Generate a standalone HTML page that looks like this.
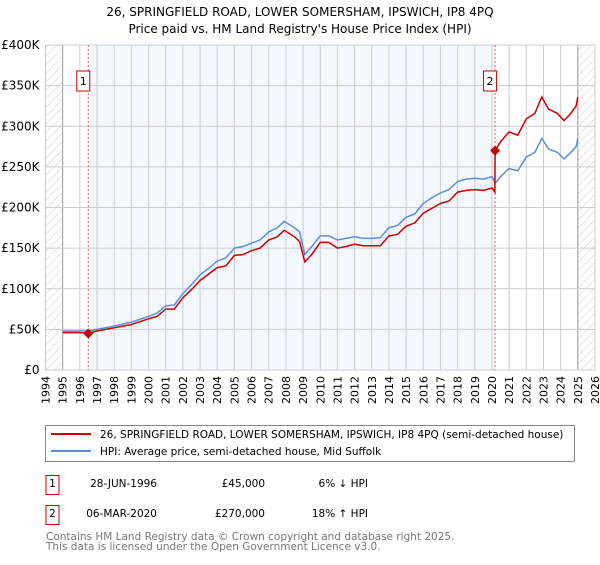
<!DOCTYPE html>
<html><head><meta charset="utf-8"><style>
body{margin:0;background:#fff;font-family:"Liberation Sans","DejaVu Sans",sans-serif;}
svg text{font-family:"DejaVu Sans","Liberation Sans",sans-serif;}
</style></head><body>
<svg id="c" width="600" height="560" xmlns="http://www.w3.org/2000/svg">
<defs><pattern id="hatch" width="6" height="6" patternUnits="userSpaceOnUse" patternTransform="rotate(45)"><line x1="0" y1="0" x2="0" y2="6" stroke="#ccc" stroke-width="1"/></pattern></defs>
<text x="300" y="16" text-anchor="middle" font-size="12">26, SPRINGFIELD ROAD, LOWER SOMERSHAM, IPSWICH, IP8 4PQ</text>
<text x="300" y="33" text-anchor="middle" font-size="12">Price paid vs. HM Land Registry's House Price Index (HPI)</text>
<g id="plot"></g>
<rect x="45.5" y="425.5" width="529" height="36" fill="#fff" stroke="#888"/>
<line x1="51" y1="434" x2="91" y2="434" stroke="#cc0000" stroke-width="2"/>
<text x="100" y="438" font-size="10.5">26, SPRINGFIELD ROAD, LOWER SOMERSHAM, IPSWICH, IP8 4PQ (semi-detached house)</text>
<line x1="51" y1="451" x2="91" y2="451" stroke="#5b8fd4" stroke-width="2"/>
<text x="100" y="455" font-size="10.5">HPI: Average price, semi-detached house, Mid Suffolk</text>
<g font-size="10.5">
<rect x="46" y="475.5" width="13" height="19" fill="#fff" stroke="#cc0000"/><text x="52.5" y="487" text-anchor="middle">1</text>
<text x="157" y="487" text-anchor="end">28-JUN-1996</text><text x="265" y="487" text-anchor="end">£45,000</text><text x="368" y="487" text-anchor="end">6% ↓ HPI</text></g>
<g font-size="10.5">
<rect x="46" y="505.5" width="13" height="19" fill="#fff" stroke="#cc0000"/><text x="52.5" y="517" text-anchor="middle">2</text>
<text x="157" y="517" text-anchor="end">06-MAR-2020</text><text x="265" y="517" text-anchor="end">£270,000</text><text x="368" y="517" text-anchor="end">18% ↑ HPI</text></g>
<text x="46" y="540" font-size="10.5" fill="#777">Contains HM Land Registry data © Crown copyright and database right 2025.</text>
<text x="46" y="550" font-size="10.5" fill="#777">This data is licensed under the Open Government Licence v3.0.</text>
</svg>
<script>
const hpiDates=[1995,1996,1996.5,1997,1998,1999,2000,2000.5,2001,2001.5,2002,2002.5,2003,2003.5,2004,2004.5,2005,2005.5,2006,2006.5,2007,2007.5,2007.9,2008.5,2008.8,2009.1,2009.5,2010,2010.5,2011,2011.5,2012,2012.5,2013,2013.5,2014,2014.5,2015,2015.5,2016,2016.5,2017,2017.5,2018,2018.5,2019,2019.5,2020,2020.2,2020.5,2021,2021.5,2022,2022.5,2022.9,2023.3,2023.8,2024.2,2024.6,2024.9,2025];
const hpiValues=[48,48,48,50,54,59,66,70,79,80,94,105,117,125,134,138,150,152,156,160,170,175,183,175,170,142,152,165,165,160,162,164,162,162,163,175,178,188,192,205,212,218,222,232,235,236,235,238,230,238,248,245,262,268,285,272,268,260,268,275,285];
const priceDates=[1995,1996,1996.5,1997,1998,1999,2000,2000.5,2001,2001.5,2002,2002.5,2003,2003.5,2004,2004.5,2005,2005.5,2006,2006.5,2007,2007.5,2007.9,2008.5,2008.8,2009.1,2009.5,2010,2010.5,2011,2011.5,2012,2012.5,2013,2013.5,2014,2014.5,2015,2015.5,2016,2016.5,2017,2017.5,2018,2018.5,2019,2019.5,2020,2020.17,2020.18,2020.5,2021,2021.5,2022,2022.5,2022.9,2023.3,2023.8,2024.2,2024.6,2024.9,2025];
const priceValues=[46,46,45,48,52,56,63,66,75,75,89,99,110,118,126,128,141,142,147,150,160,164,172,164,158,133,142,157,157,150,152,155,153,153,153,165,167,177,181,193,199,205,208,219,221,222,221,224,219,270,281,293,289,309,316,336,321,316,307,316,325,336];
const saleDates=[1996.49,2020.18];
const saleValues=[45,270];
const saleLabels=["1","2"];
const yTicks=[0,50,100,150,200,250,300,350,400];
const yTickLabels=["£0","£50K","£100K","£150K","£200K","£250K","£300K","£350K","£400K"];
const xTicks=[1994,1995,1996,1997,1998,1999,2000,2001,2002,2003,2004,2005,2006,2007,2008,2009,2010,2011,2012,2013,2014,2015,2016,2017,2018,2019,2020,2021,2022,2023,2024,2025,2026];

const X0=45.5,X1=595,Y0=370,Y1=45;
const xs=y=>X0+(y-1994)/(2026-1994)*(X1-X0);
const ys=v=>Y0-v/400*(Y0-Y1);
const g=document.getElementById('plot');
const NS='http://www.w3.org/2000/svg';
function mk(t,a){const e=document.createElementNS(NS,t);for(const k in a)e.setAttribute(k,a[k]);g.appendChild(e);return e;}
let e;
e=mk('rect',{x:X0,y:Y1,width:X1-X0,height:Y0-Y1,fill:'#fff'});


e=mk('rect',{x:xs(saleDates[0]),y:Y1,width:xs(saleDates[1])-xs(saleDates[0]),height:Y0-Y1,fill:'#f3f7fe'});


e=mk('rect',{x:X0,y:Y1,width:xs(1995)-X0,height:Y0-Y1,fill:'url(#hatch)'});


e=mk('rect',{x:xs(2025),y:Y1,width:X1-xs(2025),height:Y0-Y1,fill:'url(#hatch)'});


xTicks.forEach(t=>{
 e=mk('line',{x1:xs(t),x2:xs(t),y1:Y1,y2:Y0,stroke:(t==1995||t==2025)?'#999':'#ccc','stroke-width':1});
 
 
 e=mk('text',{x:0,y:0,'font-size':11,'text-anchor':'end',transform:`translate(${xs(t)+4},${Y0+6}) rotate(-90)`});
 e.textContent=t;
 
 
});
yTicks.forEach((t,i)=>{
 e=mk('line',{x1:X0,x2:X1,y1:ys(t),y2:ys(t),stroke:'#ccc','stroke-width':1});
 
 
 e=mk('text',{x:X0-6,y:ys(t)+4,'font-size':12,'text-anchor':'end'});
 e.textContent=yTickLabels[i];
 
 
});
saleDates.forEach(d=>{
 e=mk('line',{x1:xs(d),x2:xs(d),y1:Y1,y2:Y0,stroke:'#e06060','stroke-dasharray':'2,2','stroke-width':1});
 
 
});
e=mk('path',{d:hpiDates.map((d,i)=>(i?'L':'M')+xs(d).toFixed(1)+','+ys(hpiValues[i]).toFixed(1)).join(''),fill:'none',stroke:'#5b8fd4','stroke-width':1.5});


e=mk('path',{d:priceDates.map((d,i)=>(i?'L':'M')+xs(d).toFixed(1)+','+ys(priceValues[i]).toFixed(1)).join(''),fill:'none',stroke:'#cc0000','stroke-width':1.5});


saleDates.forEach((d,i)=>{
 const cx=xs(d),cy=ys(saleValues[i]);
 e=mk('path',{d:`M${cx},${cy-5}L${cx+5},${cy}L${cx},${cy+5}L${cx-5},${cy}Z`,fill:'#cc0000'});
 
 
 e=mk('rect',{x:cx-11.5,y:71,width:13,height:20,fill:'#fff',stroke:'#cc0000'});
 
 
 e=mk('text',{x:cx-5,y:85,'font-size':11,'text-anchor':'middle'});
 e.textContent=saleLabels[i];
 
 
});
</script>
</body></html>
